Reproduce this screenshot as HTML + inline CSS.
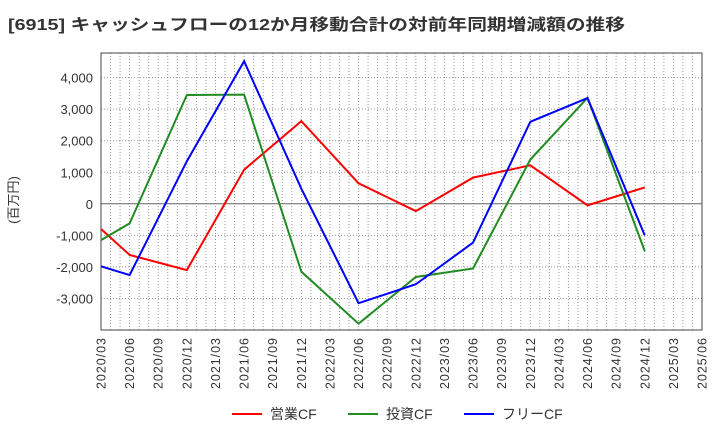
<!DOCTYPE html>
<html><head><meta charset="utf-8"><style>
body{margin:0;background:#fff;font-family:"Liberation Sans","Noto Sans CJK JP",sans-serif}
</style></head><body>
<svg id="c" width="720" height="440" xmlns="http://www.w3.org/2000/svg" font-family="Liberation Sans, Noto Sans CJK JP, sans-serif">
<text x="8" y="30" font-size="16" font-weight="bold" fill="#333" textLength="617" lengthAdjust="spacingAndGlyphs">[6915]  キャッシュフローの12か月移動合計の対前年同期増減額の推移</text>
<text transform="translate(18,200) rotate(-90)" text-anchor="middle" font-size="13" fill="#333">(百万円)</text>
<g id="grid"></g><g id="axes"></g><g id="series"></g>
<g font-size="14" fill="#333">
<line x1="232" y1="414" x2="262" y2="414" stroke="#ff0000" stroke-width="2"/><text x="270" y="419">営業CF</text>
<line x1="348" y1="414" x2="378" y2="414" stroke="#228b22" stroke-width="2"/><text x="386" y="419">投資CF</text>
<line x1="464" y1="414" x2="494" y2="414" stroke="#0000ff" stroke-width="2"/><text x="502" y="419">フリーCF</text>
</g>
</svg>
<script>
const xLabels=["2020/03","2020/06","2020/09","2020/12","2021/03","2021/06","2021/09","2021/12","2022/03","2022/06","2022/09","2022/12","2023/03","2023/06","2023/09","2023/12","2024/03","2024/06","2024/09","2024/12","2025/03","2025/06"];
const pointIdx=[0,1,3,5,7,9,11,13,15,17,19];
const operatingCF=[-800,-1620,-2100,1080,2620,650,-230,830,1220,-50,520];
const investingCF=[-1150,-620,3450,3460,-2150,-3800,-2320,-2050,1400,3360,-1500];
const freeCF=[-1980,-2260,1350,4520,480,-3150,-2550,-1230,2600,3350,-1000];
const yTicks=[-3000,-2000,-1000,0,1000,2000,3000,4000];
const L=101,R=702,T=53,B=330,yMin=-4000,yMax=4780;
const NS="http://www.w3.org/2000/svg";
const xs=i=>L+(R-L)*i/(xLabels.length-1);
const ys=v=>B-(v-yMin)/(yMax-yMin)*(B-T);
function mk(t,a,p){const e=document.createElementNS(NS,t);for(const k in a)e.setAttribute(k,a[k]);p.appendChild(e);return e;}
const grid=document.getElementById('grid'),axes=document.getElementById('axes'),ser=document.getElementById('series');
const months=(xLabels.length-1)*3;
for(let m=1;m<months;m++){const x=L+(R-L)*m/months;const g=mk('line',{x1:x,x2:x,y1:T,y2:B,stroke:'#999','stroke-dasharray':'1,2'},grid);

}
yTicks.forEach(v=>{const y=ys(v);const g=mk('line',{x1:L,x2:R,y1:y,y2:y,stroke:v===0?'#666':'#999','stroke-dasharray':v===0?'':'1,2'},grid);


const t=mk('text',{x:L-8,y:y+5,'text-anchor':'end','font-size':'13',fill:'#333'},axes);t.textContent=v.toLocaleString('en-US');

});
const fr=mk('rect',{x:L,y:T,width:R-L,height:B-T,fill:'none',stroke:'#444'},axes);


xLabels.forEach((s,i)=>{const x=xs(i);const t=mk('text',{transform:`translate(${x+4.5},${B+8}) rotate(-90)`,'text-anchor':'end','font-size':'12.5',fill:'#333',textLength:'51',lengthAdjust:'spacing'},axes);t.textContent=s;

});
[[operatingCF,'#ff0000','operating-cf-line'],[investingCF,'#228b22','investing-cf-line'],[freeCF,'#0000ff','free-cf-line']].forEach(([d,c,n])=>{
const p=mk('polyline',{points:d.map((v,i)=>xs(pointIdx[i])+','+ys(v)).join(' '),fill:'none',stroke:c,'stroke-width':2},ser);

});
</script>
</body></html>
